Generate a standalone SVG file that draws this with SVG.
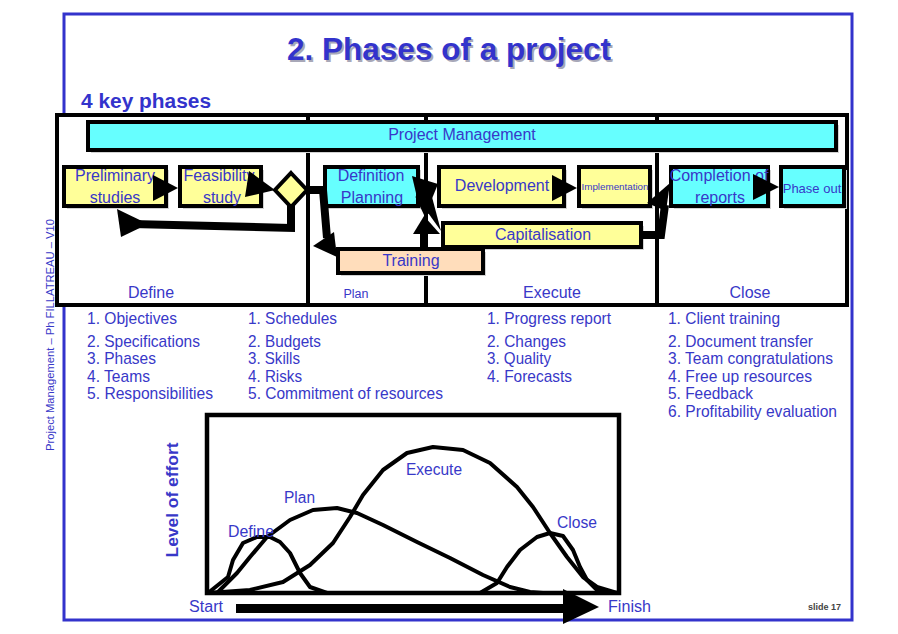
<svg xmlns="http://www.w3.org/2000/svg" width="898" height="634" viewBox="0 0 898 634">
<style>
.t{font-family:"Liberation Sans",Arial,sans-serif;fill:#3838C8}
.n{font-size:16px;text-anchor:middle}
.l{font-size:17px}
.bx{stroke:#000;stroke-width:4}
.y{fill:#FFFF99}.c{fill:#66FFFF}.p{fill:#FFDDBB}
.sh{fill:#D2D2D2}
.k{fill:#000}
.ln{fill:none;stroke:#000;stroke-width:8}
.cv{fill:none;stroke:#000;stroke-width:4;stroke-linejoin:round;stroke-linecap:round}
</style>
<rect width="898" height="634" fill="#fff"/>
<!-- frame -->
<rect x="64" y="14" width="788" height="606" fill="none" stroke="#3333CC" stroke-width="3"/>
<!-- title -->
<text x="451" y="62" class="t" style="font-size:32px;font-weight:bold;text-anchor:middle;fill:#A8A8B8" textLength="324" lengthAdjust="spacingAndGlyphs">2. Phases of a project</text>
<text x="449" y="60" class="t" style="font-size:32px;font-weight:bold;text-anchor:middle;fill:#3333CC" textLength="324" lengthAdjust="spacingAndGlyphs">2. Phases of a project</text>
<text x="81" y="108" class="t" style="font-size:20px;font-weight:bold;fill:#3333CC" textLength="130" lengthAdjust="spacingAndGlyphs">4 key phases</text>
<!-- footer side text -->
<text transform="translate(54,335) rotate(-90)" class="t" style="font-size:11px;text-anchor:middle" textLength="232" lengthAdjust="spacingAndGlyphs">Project Management – Ph FILLATREAU – V10</text>

<!-- phases box -->
<g id="phases">
<rect x="57" y="115" width="790" height="190" fill="#fff" stroke="#000" stroke-width="4"/>
<line x1="308" y1="115" x2="308" y2="305" stroke="#000" stroke-width="4"/>
<line x1="426" y1="115" x2="426" y2="305" stroke="#000" stroke-width="4"/>
<line x1="657" y1="115" x2="657" y2="305" stroke="#000" stroke-width="4"/>
<text x="151" y="298" class="t n">Define</text>
<text x="356" y="298" class="t" style="font-size:12.5px;text-anchor:middle">Plan</text>
<text x="552" y="298" class="t n">Execute</text>
<text x="750" y="298" class="t n">Close</text>
</g>

<g id="project-management">
<rect x="91" y="125" width="748" height="28" class="sh"/>
<rect x="88" y="122" width="748" height="28" class="bx c"/>
<text x="462" y="140" class="t n">Project Management</text>
</g>

<g id="preliminary">
<rect x="67" y="170" width="102" height="39" class="sh"/>
<rect x="64" y="167" width="102" height="39" class="bx y"/>
<text x="115" y="181" class="t n">Preliminary</text>
<text x="115" y="203" class="t n">studies</text>
</g>
<g id="feasibility">
<rect x="183" y="170" width="81" height="39" class="sh"/>
<rect x="180" y="167" width="81" height="39" class="bx y"/>
<text x="219" y="181" class="t n">Feasibility</text>
<text x="222" y="203" class="t n">study</text>
</g>
<g id="decision">
<polygon points="291,173 307,190 291,207 275,190" class="bx y"/>
</g>
<g id="definition">
<rect x="328" y="170" width="93" height="39" class="sh"/>
<rect x="325" y="167" width="93" height="39" class="bx c"/>
<text x="371" y="181" class="t n">Definition</text>
<text x="372" y="203" class="t n">Planning</text>
</g>
<g id="development">
<rect x="442" y="170" width="125" height="39" class="sh"/>
<rect x="439" y="167" width="125" height="39" class="bx y"/>
<text x="502" y="191" class="t n">Development</text>
</g>
<g id="implementation">
<rect x="582" y="170" width="71" height="39" class="sh"/>
<rect x="579" y="167" width="71" height="39" class="bx y"/>
<text x="615" y="190" class="t" style="font-size:9.5px;text-anchor:middle" textLength="67" lengthAdjust="spacingAndGlyphs">Implementation</text>
</g>
<g id="completion">
<rect x="674" y="170" width="97" height="39" class="sh"/>
<rect x="671" y="167" width="97" height="39" class="bx c"/>
<text x="719" y="181" class="t n">Completion of</text>
<text x="720" y="203" class="t n">reports</text>
</g>
<g id="phase-out">
<rect x="784" y="170" width="63" height="39" class="sh"/>
<rect x="781" y="167" width="63" height="39" class="bx c"/>
<text x="812" y="193" class="t" style="font-size:13px;text-anchor:middle">Phase out</text>
</g>
<g id="capitalisation">
<rect x="446" y="226" width="198" height="24" class="sh"/>
<rect x="443" y="223" width="198" height="24" class="bx y"/>
<text x="543" y="240" class="t n">Capitalisation</text>
</g>
<g id="training">
<rect x="341" y="252" width="145" height="24" class="sh"/>
<rect x="338" y="249" width="145" height="24" class="bx p"/>
<text x="411" y="266" class="t n">Training</text>
</g>

<g id="connectors">
<polygon points="153,175 178,188 153,201" class="k"/>
<polygon points="249,171 275,190 245,197" class="k"/>
<path d="M291,205 L291,228 L132,224" class="ln"/>
<polygon points="117,209 148,224 121,237" class="k"/>
<path d="M305,190 L323,190 L327,238" class="ln"/>
<polygon points="313,246 334,232 337,257" class="k"/>
<polygon points="412,176 438,184 431,201 419,206" class="k"/>
<path d="M419,195 L428,214" class="ln"/>
<polygon points="421,203 432,197 441,231" class="k"/>
<polygon points="413,234 424,216 440,234" class="k"/>
<rect x="420" y="232" width="8" height="16" class="k"/>
<polygon points="552,175 577,188 552,201" class="k"/>
<path d="M641,235 L661,235 L665,205" class="ln"/>
<polygon points="647,203 670,183 666,211" class="k"/>
<polygon points="753,174 779,187 753,200" class="k"/>
</g>

<!-- lists -->
<g id="lists">
<text x="87" y="324" class="t l" textLength="90" lengthAdjust="spacingAndGlyphs">1. Objectives</text>
<text x="87" y="347" class="t l" textLength="113" lengthAdjust="spacingAndGlyphs">2. Specifications</text>
<text x="87" y="364" class="t l" textLength="69" lengthAdjust="spacingAndGlyphs">3. Phases</text>
<text x="87" y="382" class="t l" textLength="63" lengthAdjust="spacingAndGlyphs">4. Teams</text>
<text x="87" y="399" class="t l" textLength="126" lengthAdjust="spacingAndGlyphs">5. Responsibilities</text>
<text x="248" y="324" class="t l" textLength="89" lengthAdjust="spacingAndGlyphs">1. Schedules</text>
<text x="248" y="347" class="t l" textLength="73" lengthAdjust="spacingAndGlyphs">2. Budgets</text>
<text x="248" y="364" class="t l" textLength="52" lengthAdjust="spacingAndGlyphs">3. Skills</text>
<text x="248" y="382" class="t l" textLength="54" lengthAdjust="spacingAndGlyphs">4. Risks</text>
<text x="248" y="399" class="t l" textLength="195" lengthAdjust="spacingAndGlyphs">5. Commitment of resources</text>
<text x="487" y="324" class="t l" textLength="124" lengthAdjust="spacingAndGlyphs">1. Progress report</text>
<text x="487" y="347" class="t l" textLength="79" lengthAdjust="spacingAndGlyphs">2. Changes</text>
<text x="487" y="364" class="t l" textLength="64" lengthAdjust="spacingAndGlyphs">3. Quality</text>
<text x="487" y="382" class="t l" textLength="85" lengthAdjust="spacingAndGlyphs">4. Forecasts</text>
<text x="668" y="324" class="t l" textLength="112" lengthAdjust="spacingAndGlyphs">1. Client training</text>
<text x="668" y="347" class="t l" textLength="145" lengthAdjust="spacingAndGlyphs">2. Document transfer</text>
<text x="668" y="364" class="t l" textLength="165" lengthAdjust="spacingAndGlyphs">3. Team congratulations</text>
<text x="668" y="382" class="t l" textLength="144" lengthAdjust="spacingAndGlyphs">4. Free up resources</text>
<text x="668" y="399" class="t l" textLength="85" lengthAdjust="spacingAndGlyphs">5. Feedback</text>
<text x="668" y="417" class="t l" textLength="169" lengthAdjust="spacingAndGlyphs">6. Profitability evaluation</text>
</g>

<!-- effort chart -->
<g id="effort-chart">
<rect x="207" y="415" width="412" height="178" fill="none" stroke="#000" stroke-width="4.5"/>
<polyline class="cv" points="208,593 228,577 233,560 243,543 257,537 270,537 280,542 290,553 300,573 310,587 327,593"/>
<polyline class="cv" points="218,592 237,573 250,557 267,537 290,520 313,510 337,508 357,513 383,525 417,542 450,558 483,575 510,587 530,592 543,593"/>
<polyline class="cv" points="208,593 250,590 283,582 310,565 333,543 350,517 363,495 383,470 407,453 433,447 463,450 490,463 517,487 533,507 550,533 567,557 583,577 597,587 617,593"/>
<polyline class="cv" points="480,593 497,583 507,567 520,550 537,537 550,533 563,536 573,550 580,567 587,580 597,590 610,593"/>
<text x="228" y="537" class="t n" style="text-anchor:start" textLength="46" lengthAdjust="spacingAndGlyphs">Define</text>
<text x="284" y="503" class="t n" style="text-anchor:start" textLength="31" lengthAdjust="spacingAndGlyphs">Plan</text>
<text x="406" y="475" class="t n" style="text-anchor:start" textLength="56" lengthAdjust="spacingAndGlyphs">Execute</text>
<text x="557" y="528" class="t n" style="text-anchor:start" textLength="40" lengthAdjust="spacingAndGlyphs">Close</text>
<text transform="translate(178,500) rotate(-90)" class="t" style="font-size:17px;font-weight:bold;text-anchor:middle" textLength="115" lengthAdjust="spacingAndGlyphs">Level of effort</text>
<text x="189" y="612" class="t n" style="text-anchor:start" textLength="34" lengthAdjust="spacingAndGlyphs">Start</text>
<text x="608" y="612" class="t n" style="text-anchor:start" textLength="43" lengthAdjust="spacingAndGlyphs">Finish</text>
<line x1="236" y1="608.5" x2="566" y2="608.5" stroke="#000" stroke-width="9"/>
<polygon points="563,589 599,607 563,624" class="k"/>
</g>

<text x="808" y="610" style="font-family:'Liberation Sans',Arial,sans-serif;font-size:9px;font-weight:bold;fill:#444">slide 17</text>
</svg>
